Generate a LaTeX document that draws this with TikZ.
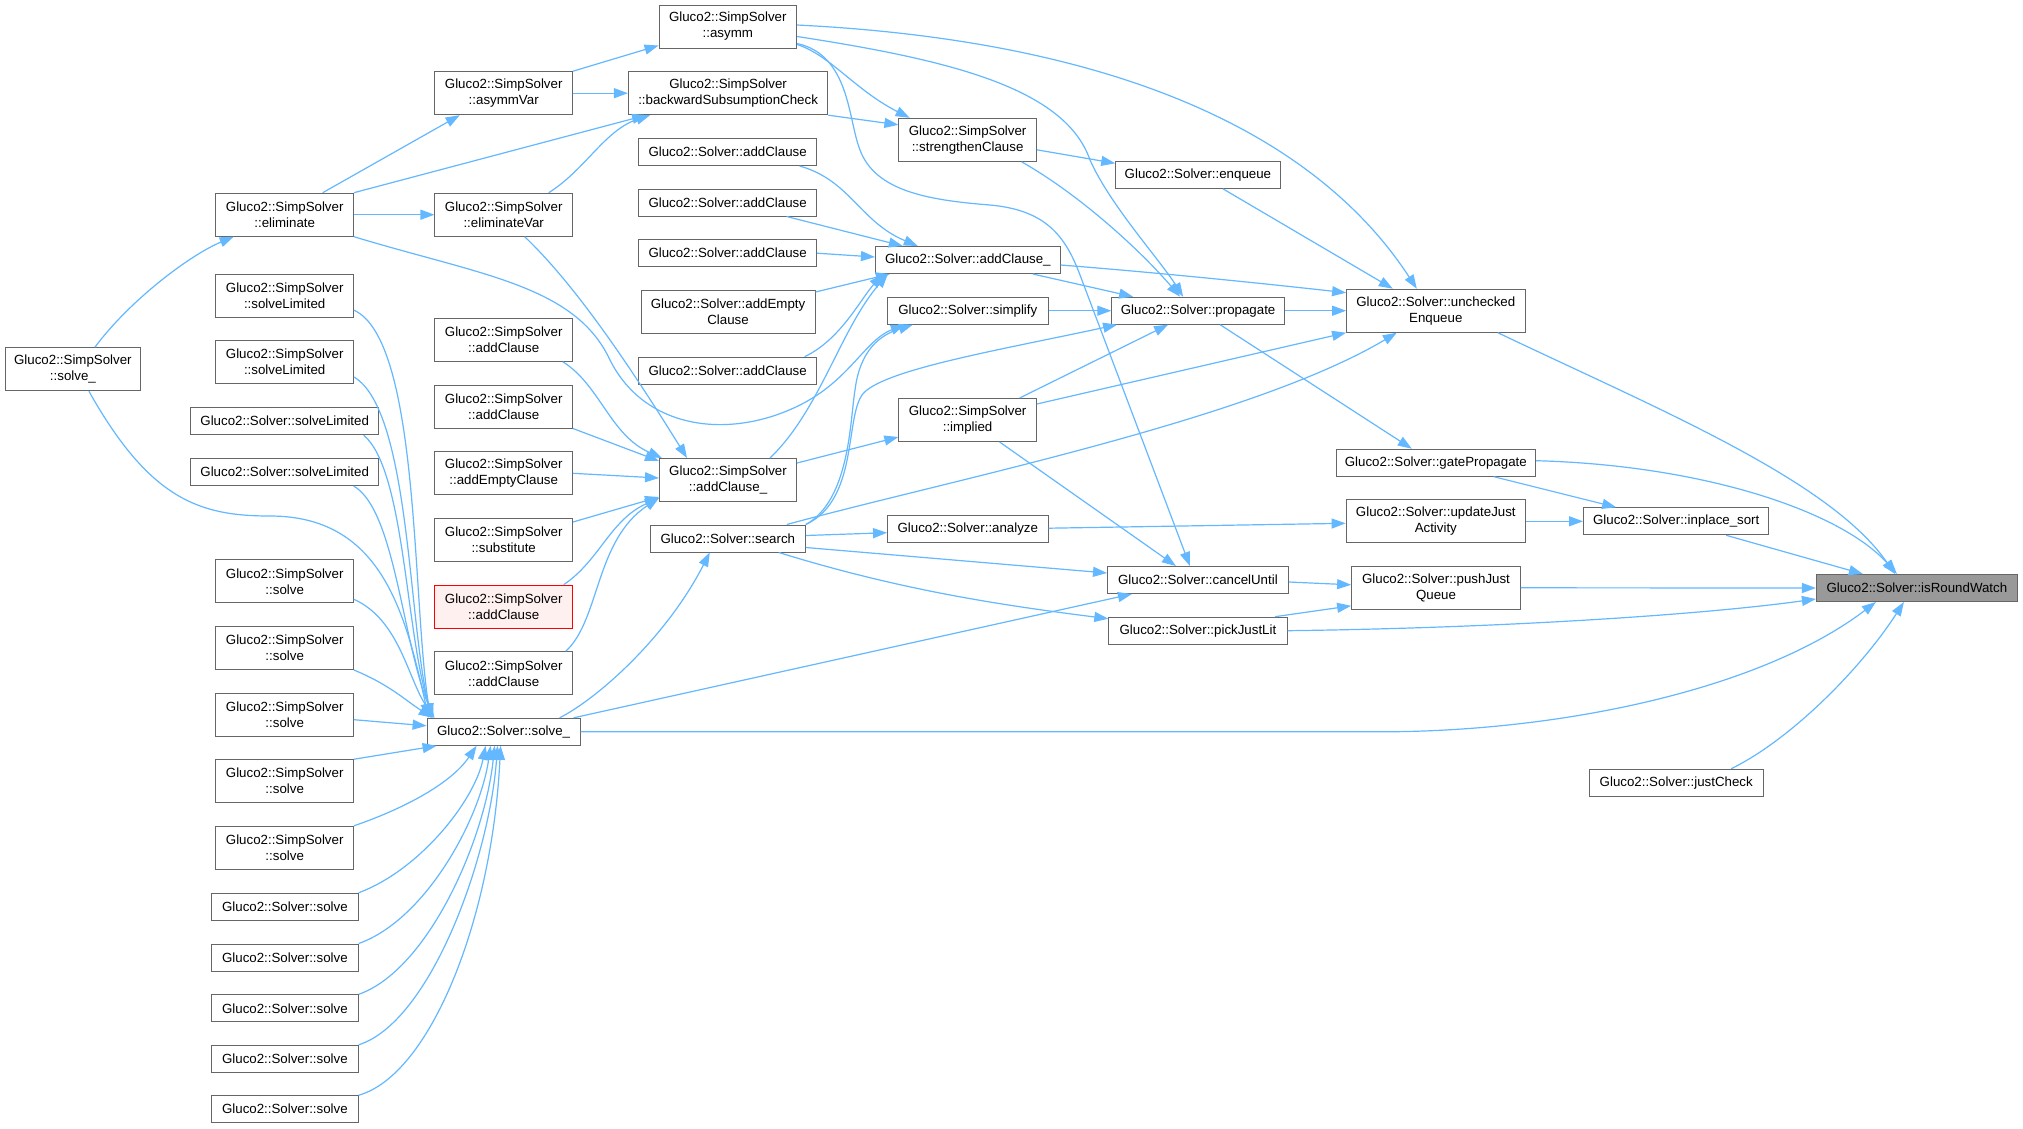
\documentclass[tikz,border=0pt]{standalone}
\usepackage{fontspec}
\setmainfont{Liberation Sans}
\usetikzlibrary{arrows.meta}
\definecolor{edgec}{HTML}{63B8FF}
\definecolor{boxline}{HTML}{666666}
\definecolor{roundfill}{HTML}{999999}
\definecolor{redfill}{HTML}{FFF0F0}
\definecolor{redline}{HTML}{FF0000}
\tikzset{
  box/.style={draw=boxline, fill=white, line width=1pt, inner sep=0pt, align=center,
    font=\fontsize{13.3}{16}\selectfont, text=black},
  one/.style={box, minimum height=27pt},
  two/.style={box, minimum height=43pt},
  edge/.style={draw=edgec, line width=1.2pt, -{Triangle[length=14pt,width=10pt]}}
}
\begin{document}
\begin{tikzpicture}[x=1pt,y=-1pt]
\fill[white] (0,0) rectangle (2023,1128);
\useasboundingbox (0,0) rectangle (2023,1128);
% column A
\node[two, minimum width=135.5pt] (sSolveU) at (72.9,369.2) {Gluco2::SimpSolver\\::solve\_};
% column B
\node[two, minimum width=137.5pt] (elim) at (284.7,214.7) {Gluco2::SimpSolver\\::eliminate};
\node[two, minimum width=137.5pt] (sLimA) at (284.7,296.2) {Gluco2::SimpSolver\\::solveLimited};
\node[two, minimum width=137.5pt] (sLimB) at (284.7,362) {Gluco2::SimpSolver\\::solveLimited};
\node[one, minimum width=188pt] (limA) at (284.7,421.2) {Gluco2::Solver::solveLimited};
\node[one, minimum width=188pt] (limB) at (284.7,472) {Gluco2::Solver::solveLimited};
\node[two, minimum width=137.5pt] (ssA) at (284.7,581.3) {Gluco2::SimpSolver\\::solve};
\node[two, minimum width=137.5pt] (ssB) at (284.7,648) {Gluco2::SimpSolver\\::solve};
\node[two, minimum width=137.5pt] (ssC) at (284.7,714.7) {Gluco2::SimpSolver\\::solve};
\node[two, minimum width=137.5pt] (ssD) at (284.7,781.2) {Gluco2::SimpSolver\\::solve};
\node[two, minimum width=137.5pt] (ssE) at (284.7,847.8) {Gluco2::SimpSolver\\::solve};
\node[one, minimum width=146.6pt] (sA) at (284.9,906.7) {Gluco2::Solver::solve};
\node[one, minimum width=146.6pt] (sB) at (284.9,957.5) {Gluco2::Solver::solve};
\node[one, minimum width=146.6pt] (sC) at (284.9,1008.3) {Gluco2::Solver::solve};
\node[one, minimum width=146.6pt] (sD) at (284.9,1058.8) {Gluco2::Solver::solve};
\node[one, minimum width=146.6pt] (sE) at (284.9,1109.2) {Gluco2::Solver::solve};
% column C
\node[two, minimum width=137.5pt] (asymmVar) at (503.7,93.2) {Gluco2::SimpSolver\\::asymmVar};
\node[two, minimum width=137.5pt] (elimVar) at (503.7,214.7) {Gluco2::SimpSolver\\::eliminateVar};
\node[two, minimum width=137.5pt] (sacA) at (503.7,339.7) {Gluco2::SimpSolver\\::addClause};
\node[two, minimum width=137.5pt] (sacB) at (503.7,406.5) {Gluco2::SimpSolver\\::addClause};
\node[two, minimum width=137.5pt] (sEmpty) at (503.7,473.3) {Gluco2::SimpSolver\\::addEmptyClause};
\node[two, minimum width=137.5pt] (subst) at (503.7,540) {Gluco2::SimpSolver\\::substitute};
\node[two, minimum width=137.5pt, draw=redline, fill=redfill] (sacRed) at (503.7,606.7) {Gluco2::SimpSolver\\::addClause};
\node[two, minimum width=137.5pt] (sacC) at (503.7,673.3) {Gluco2::SimpSolver\\::addClause};
\node[one, minimum width=153pt] (solveU) at (503.6,731.8) {Gluco2::Solver::solve\_};
% column D
\node[two, minimum width=137.5pt] (asymm) at (727.8,26.5) {Gluco2::SimpSolver\\::asymm};
\node[two, minimum width=199.4pt] (bsc) at (728.1,93.2) {Gluco2::SimpSolver\\::backwardSubsumptionCheck};
\node[one, minimum width=177.7pt] (acA) at (727.6,152) {Gluco2::Solver::addClause};
\node[one, minimum width=177.7pt] (acB) at (727.6,202.5) {Gluco2::Solver::addClause};
\node[one, minimum width=177.7pt] (acC) at (727.6,253.2) {Gluco2::Solver::addClause};
\node[two, minimum width=174pt] (aEmpty) at (728,312) {Gluco2::Solver::addEmpty\\Clause};
\node[one, minimum width=177.7pt] (acD) at (727.6,370.7) {Gluco2::Solver::addClause};
\node[two, minimum width=137pt] (sacU) at (728,480) {Gluco2::SimpSolver\\::addClause\_};
\node[one, minimum width=155pt] (search) at (727.8,538.5) {Gluco2::Solver::search};
% column E
\node[two, minimum width=137.5pt] (strength) at (967.6,139.8) {Gluco2::SimpSolver\\::strengthenClause};
\node[one, minimum width=184.7pt] (acU) at (967.8,260) {Gluco2::Solver::addClause\_};
\node[one, minimum width=160.5pt] (simplify) at (967.8,310.7) {Gluco2::Solver::simplify};
\node[two, minimum width=137.5pt] (implied) at (967.6,420) {Gluco2::SimpSolver\\::implied};
\node[one, minimum width=160.5pt] (analyze) at (967.8,529.2) {Gluco2::Solver::analyze};
% column F
\node[one, minimum width=164.4pt] (enqueue) at (1197.9,174.8) {Gluco2::Solver::enqueue};
\node[one, minimum width=172.6pt] (propagate) at (1198.1,310.7) {Gluco2::Solver::propagate};
\node[one, minimum width=180.8pt] (cancel) at (1197.9,580) {Gluco2::Solver::cancelUntil};
\node[one, minimum width=178.2pt] (pick) at (1197.9,630.7) {Gluco2::Solver::pickJustLit};
% column G
\node[two, minimum width=178.4pt] (unchecked) at (1435.8,310.7) {Gluco2::Solver::unchecked\\Enqueue};
\node[one, minimum width=199.6pt] (gate) at (1435.8,462.7) {Gluco2::Solver::gatePropagate};
\node[two, minimum width=179.4pt] (updJust) at (1435.8,521.3) {Gluco2::Solver::updateJust\\Activity};
\node[two, minimum width=168.8pt] (pushJust) at (1436,587.8) {Gluco2::Solver::pushJust\\Queue};
% column H
\node[one, minimum width=185.4pt] (inplace) at (1676.2,521.3) {Gluco2::Solver::inplace\_sort};
\node[one, minimum width=174.3pt] (justCheck) at (1676.2,782.7) {Gluco2::Solver::justCheck};
% target
\node[one, minimum width=201pt, fill=roundfill] (isRound) at (1916.9,588) {Gluco2::Solver::isRoundWatch};

% ---- edges ----
\draw[edge] ([xshift=22pt]sSolveU.north) .. controls (130,300) and (190,255) .. ([xshift=-51pt]elim.south);
\draw[edge] ([xshift=16pt]sSolveU.south) .. controls (150,500) and (200,516) .. (270,516) .. controls (380,516) and (405,610) .. ([xshift=2pt]solveU.north west);
\draw[edge] ([xshift=38pt]elim.north) -- ([xshift=-44pt]asymmVar.south);
\draw[edge] (elim.north east) -- ([xshift=-82pt]bsc.south);
\draw[edge] (elim.east) -- (elimVar.west);
\draw[edge] (elim.south east) .. controls (480,275) and (575,285) .. (610,360) .. controls (645,430) and (730,440) .. (800,405) .. controls (850,380) and (865,340) .. ([xshift=-63pt]simplify.south);
\draw[edge] ([xshift=45pt]elimVar.north) .. controls (585,170) and (605,130) .. ([xshift=-78pt]bsc.south);
\draw[edge] ([xshift=21pt]elimVar.south) .. controls (570,280) and (620,350) .. ([xshift=-41pt]sacU.north);
\draw[edge] (asymmVar.north east) -- ([yshift=3pt]asymm.south west);
\draw[edge] (asymmVar.east) -- (bsc.west);
\draw[edge] ([yshift=-18pt]asymm.east) .. controls (830,55) and (855,90) .. ([xshift=-58pt]strength.north);
\draw[edge] ([yshift=-17pt]asymm.east) .. controls (850,55) and (848,120) .. (860,150) .. controls (875,190) and (925,200) .. (990,205) .. controls (1045,210) and (1065,235) .. (1080,275) -- ([xshift=-8pt]cancel.north);
\draw[edge] ([yshift=-10pt]asymm.east) .. controls (950,60) and (1065,88) .. (1090,160) .. controls (1110,205) and (1160,260) .. ([xshift=-15pt]propagate.north);
\draw[edge] ([yshift=1.5pt]asymm.east) .. controls (1100,40) and (1310,125) .. ([xshift=-19pt]unchecked.north);
\draw[edge] (bsc.south east) -- ([yshift=15pt]strength.west);
\draw[edge] ([yshift=-10pt]strength.east) -- ([yshift=11.5pt]enqueue.west);
\draw[edge] ([xshift=54pt]strength.south) .. controls (1080,195) and (1140,250) .. ([xshift=-18pt]propagate.north);
\draw[edge] ([xshift=25pt]enqueue.south) -- ([xshift=-43pt]unchecked.north);
\draw[edge] ([xshift=72pt]acA.south) .. controls (850,180) and (860,222) .. ([xshift=-50pt]acU.north);
\draw[edge] ([xshift=59pt]acB.south) -- ([xshift=-65pt]acU.north);
\draw[edge] (acC.east) -- ([yshift=3pt]acU.west);
\draw[edge] ([yshift=-2pt]aEmpty.north east) -- ([xshift=-78pt]acU.south);
\draw[edge] ([xshift=77pt]acD.north) .. controls (840,340) and (860,300) .. ([xshift=-85pt]acU.south);
\draw[edge] ([xshift=42pt]sacU.north) .. controls (820,410) and (840,330) .. ([xshift=-80pt]acU.south);
\draw[edge] ([yshift=17pt]sacU.east) -- ([yshift=-17pt]implied.west);
\draw[edge] ([xshift=59pt]sacA.south) .. controls (600,385) and (610,435) .. ([xshift=3pt]sacU.north west);
\draw[edge] (sacB.south east) -- ([yshift=-3pt]sacU.north west);
\draw[edge] (sEmpty.east) -- ([yshift=2pt]sacU.west);
\draw[edge] ([yshift=18pt]subst.east) -- ([yshift=-17pt]sacU.west);
\draw[edge] ([xshift=60pt]sacRed.north) .. controls (600,560) and (610,520) .. ([yshift=4pt]sacU.south west);
\draw[edge] ([xshift=62pt]sacC.north) .. controls (600,620) and (595,540) .. ([yshift=4pt]sacU.south west);
\draw[edge] ([xshift=56pt]solveU.north) .. controls (595,700) and (665,640) .. ([xshift=-18pt]search.south);
\draw[edge] ([xshift=70pt]solveU.north) -- ([xshift=-66pt]cancel.south);
\draw[edge] (solveU.east) -- (1380,731.8) .. controls (1560,731.8) and (1760,690) .. ([xshift=-41pt]isRound.south);
\draw[edge] ([xshift=59pt]search.north) .. controls (950,480) and (1250,420) .. ([xshift=-39pt]unchecked.south);
\draw[edge] (search.north east) .. controls (850,500) and (850,420) .. (855,390) .. controls (860,350) and (880,335) .. ([xshift=-55pt]simplify.south);
\draw[edge] (search.north east) .. controls (858,500) and (845,420) .. (862,395) .. controls (880,370) and (1000,350) .. ([xshift=-81pt]propagate.south);
\draw[edge] ([yshift=3pt]search.east) -- ([yshift=-3.5pt]analyze.west);
\draw[edge] ([yshift=-9pt]search.east) -- ([yshift=7pt]cancel.west);
\draw[edge] ([xshift=51pt]search.south) .. controls (900,590) and (1000,605) .. ([yshift=12pt]pick.west);
\draw[edge] ([xshift=65pt]acU.south) -- ([xshift=-65pt]propagate.north);
\draw[edge] ([yshift=-5pt]acU.east) .. controls (1150,272) and (1250,282) .. ([yshift=18pt]unchecked.west);
\draw[edge] (simplify.east) -- (propagate.west);
\draw[edge] (propagate.east) -- (unchecked.west);
\draw[edge] ([xshift=22pt]propagate.south) -- ([xshift=-24pt]gate.north);
\draw[edge] ([xshift=52pt]implied.north) -- ([xshift=-30pt]propagate.south);
\draw[edge] ([yshift=16pt]implied.east) -- (unchecked.south west);
\draw[edge] ([xshift=32pt]implied.south) -- ([xshift=-22pt]cancel.north);
\draw[edge] ([yshift=1pt]analyze.east) -- ([yshift=-2pt]updJust.west);
\draw[edge] ([yshift=-2pt]cancel.east) -- ([yshift=3pt]pushJust.west);
\draw[edge] ([xshift=77pt]pick.north) -- ([yshift=-18pt]pushJust.west);
\draw[edge] (pick.east) .. controls (1500,628) and (1700,615) .. ([yshift=-11pt]isRound.west);
\draw[edge] ([xshift=62pt]unchecked.south) .. controls (1660,410) and (1830,480) .. ([xshift=-22pt]isRound.north);
\draw[edge] ([yshift=2pt]gate.east) .. controls (1700,465) and (1840,510) .. ([xshift=-20pt]isRound.north);
\draw[edge] ([xshift=58pt]gate.south) -- ([xshift=-60pt]inplace.north);
\draw[edge] (updJust.east) -- (inplace.west);
\draw[edge] ([xshift=50pt]inplace.south) -- ([xshift=-54pt]isRound.north);
\draw[edge] (pushJust.east) -- (isRound.west);
\draw[edge] ([xshift=55pt]justCheck.north) .. controls (1790,740) and (1860,670) .. ([xshift=-13pt]isRound.south);
% into Solver::solve_
\draw[edge] ([yshift=-14pt]sLimA.east) .. controls (420,340) and (412,600) .. ([xshift=4pt]solveU.north west);
\draw[edge] ([yshift=-15pt]sLimB.east) .. controls (410,410) and (408,620) .. ([xshift=5pt]solveU.north west);
\draw[edge] ([xshift=79pt]limA.south) .. controls (405,470) and (405,630) .. ([xshift=6pt]solveU.north west);
\draw[edge] ([xshift=69pt]limB.south) .. controls (395,510) and (402,640) .. ([xshift=7pt]solveU.north west);
\draw[edge] ([yshift=-18pt]ssA.east) .. controls (400,620) and (408,680) .. ([xshift=8pt]solveU.north west);
\draw[edge] (ssB.south east) .. controls (390,685) and (405,700) .. ([xshift=6pt]solveU.north west);
\draw[edge] ([yshift=-5pt]ssC.east) -- ([yshift=6pt]solveU.west);
\draw[edge] (ssD.north east) -- ([xshift=10pt]solveU.south west);
\draw[edge] (ssE.north east) .. controls (400,810) and (450,785) .. ([xshift=-27pt]solveU.south);
\draw[edge] (sA.north east) .. controls (420,870) and (475,800) .. ([xshift=-18pt]solveU.south);
\draw[edge] (sB.north east) .. controls (425,920) and (480,820) .. ([xshift=-13pt]solveU.south);
\draw[edge] (sC.north east) .. controls (428,970) and (485,840) .. ([xshift=-9pt]solveU.south);
\draw[edge] (sD.north east) .. controls (430,1022) and (489,860) .. ([xshift=-6pt]solveU.south);
\draw[edge] (sE.north east) .. controls (430,1075) and (492,920) .. ([xshift=-3pt]solveU.south);
\end{tikzpicture}
\end{document}
